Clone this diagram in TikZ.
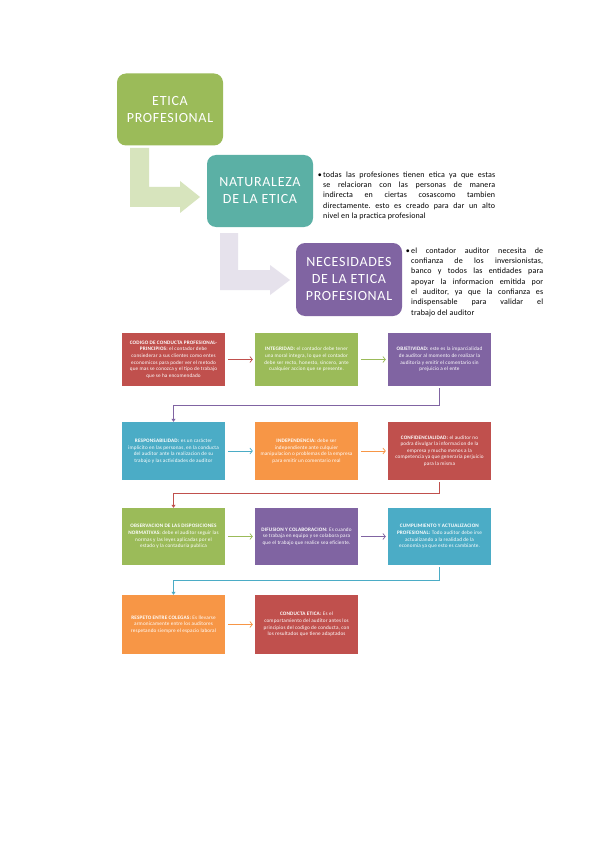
\documentclass[tikz,border=0pt]{standalone}
\usepackage{fontspec}
\setmainfont{Carlito}
\usetikzlibrary{arrows.meta,calc}
\frenchspacing
\definecolor{cgreen}{HTML}{9BBB59}
\definecolor{cred}{HTML}{C0504D}
\definecolor{cpurple}{HTML}{8064A2}
\definecolor{cblue}{HTML}{4BACC6}
\definecolor{corange}{HTML}{F79646}
\definecolor{cteal}{HTML}{5BB0A5}
\definecolor{lgreen}{HTML}{D7E4BD}
\definecolor{llav}{HTML}{E6E2EC}
\begin{document}
\begin{tikzpicture}[x=1pt,y=-1pt,
 head/.style={rounded corners=9pt, text=white, align=center, font=\fontsize{14}{17}\selectfont\addfontfeature{LetterSpace=5}, minimum width=106pt, minimum height=72pt, inner sep=0pt},
 gbox/.style={minimum width=103pt, align=center, inner sep=0pt, text=white, font=\fontsize{5.2}{6.6}\selectfont\addfontfeature{LetterSpace=3}},
 harrow/.style={-{Straight Barb[length=2.5pt,width=6pt]}, line width=0.7pt, shorten <=3pt, shorten >=2pt},
 varrow/.style={-{Triangle[length=3pt,width=4pt]}, line width=0.9pt, shorten <=2pt},
 bul/.style={anchor=north west, inner sep=0pt, align=left, font=\fontsize{8}{10.3}\selectfont\addfontfeature{LetterSpace=2}\frenchspacing}
]
\useasboundingbox (0,0) rectangle (595,842);
\fill[white] (0,0) rectangle (595,842);

% bent arrows
\fill[lgreen] (130,148) -- (149,148) -- (149,187) -- (180,187) -- (180,181) -- (200,197) -- (180,213) -- (180,207) -- (130,207) -- cycle;
\fill[llav] (220,233) -- (238,233) -- (238,270) -- (270,270) -- (270,265) -- (290,280) -- (270,295) -- (270,290) -- (220,290) -- cycle;

% header boxes
\node[head, fill=cgreen] (etica) at (170,109.5) {ETICA\\PROFESIONAL};
\node[head, fill=cteal] (nat) at (260,191) {NATURALEZA\\DE LA ETICA};
\node[head, fill=cpurple, minimum height=73pt] (nec) at (349,279.5) {NECESIDADES\\DE LA ETICA\\PROFESIONAL};

% bullet texts
\node[bul] (t1) at (323,171.5) {\llap{•\,}\makebox[172pt][s]{todas las profesiones tienen etica ya que estas}\\
\makebox[172pt][s]{se relacioran con las personas de manera}\\
\makebox[172pt][s]{indirecta en ciertas cosascomo tambien}\\
\makebox[172pt][s]{directamente. esto es creado para dar un alto}\\
nivel en la practica profesional};
\node[bul] (t2) at (411,247.5) {\llap{•\,}\makebox[132pt][s]{el contador auditor necesita de}\\
\makebox[132pt][s]{confianza de los inversionistas,}\\
\makebox[132pt][s]{banco y todos las entidades para}\\
\makebox[132pt][s]{apoyar la informacion emitida por}\\
\makebox[132pt][s]{el auditor, ya que la confianza es}\\
\makebox[132pt][s]{indispensable para validar el}\\
trabajo del auditor};

% grid boxes
\node[gbox, fill=cred, minimum height=53pt] (A) at (173.5,359.5) {\textbf{CODIGO DE CONDUCTA PROFESIONAL-}\\\textbf{PRINCIPIOS:} el contador debe\\consiederar a sus clientes como entes\\economicos para poder ver el metodo\\que mas se conozca y el tipo de trabajo\\que se ha encomendado};
\node[gbox, fill=cgreen, minimum height=53pt] (B) at (306.5,359.5) {\textbf{INTEGRIDAD:} el contador debe tener\\una moral integra, lo que el contador\\debe ser recto, honesto, sincero, ante\\cualquier accion que se presente.};
\node[gbox, fill=cpurple, minimum height=53pt] (C) at (439.5,359.5) {\textbf{OBJETIVIDAD:} este es la imparcialidad\\de auditor al momento de realizar la\\auditoria y emitir el comentario sin\\prejuicio a el ente};

\node[gbox, fill=cblue, minimum height=58pt] (D) at (173.5,451) {\textbf{RESPONSABILIDAD:} es un carácter\\implicito en las personas, en la conducta\\del auditor ante la realizacion de su\\trabajo y las actividades de auditor};
\node[gbox, fill=corange, minimum height=58pt] (E) at (306.5,451) {\textbf{INDEPENDENCIA:} debe ser\\independiente ante culquier\\manipulacion o problemas de la empresa\\para emitir un comentario real};
\node[gbox, fill=cred, minimum height=58pt] (F) at (439.5,451) {\textbf{CONFIDENCIALIDAD:} el auditor no\\podra divulgar la informacion de la\\empresa y mucho menos a la\\competencia ya que generaria perjuicio\\para la misma};

\node[gbox, fill=cgreen, minimum height=57pt] (G) at (173.5,536.5) {\textbf{OBSERVACION DE LAS DISPOSICIONES}\\\textbf{NORMATIVAS:} debe el auditor seguir las\\normas y las leyes aplicadas por el\\estado y la contaduria publica};
\node[gbox, fill=cpurple, minimum height=57pt] (H) at (306.5,536.5) {\textbf{DIFUSION Y COLABORACION:} Es cuando\\se trabaja en equipo y se colabora para\\que el trabajo que realice sea eficiente.};
\node[gbox, fill=cblue, minimum height=57pt] (I) at (439.5,536.5) {\textbf{CUMPLIMIENTO Y ACTUALIZACION}\\\textbf{PROFESIONAL:} Todo auditor debe irse\\actualizando a la realidad de la\\economia ya que esto es cambiante.};

\node[gbox, fill=corange, minimum height=59pt] (J) at (173.5,624.5) {\textbf{RESPETO ENTRE COLEGAS:} Es llevarse\\armonicamente entre los auditores\\respetando siempre el espacio laboral};
\node[gbox, fill=cred, minimum height=59pt] (K) at (306.5,624.5) {\textbf{CONDUCTA ETICA:} Es el\\comportamiento del auditor antes los\\principios del codigo de conducta, con\\los resultados que tiene adaptados};

% connectors
\draw[harrow, cred] (A) -- (B);
\draw[harrow, cgreen] (B) -- (C);
\coordinate (k1) at (0,405);
\draw[varrow, cpurple] (C.south) -- (C.south |- k1) -| (D.north);
\draw[harrow, cblue] (D) -- (E);
\draw[harrow, corange] (E) -- (F);
\coordinate (k2) at (0,493);
\draw[varrow, cred] (F.south) -- (F.south |- k2) -| (G.north);
\draw[harrow, cgreen] (G) -- (H);
\draw[harrow, cpurple] (H) -- (I);
\coordinate (k3) at (0,580);
\draw[varrow, cblue] (I.south) -- (I.south |- k3) -| (J.north);
\draw[harrow, corange] (J) -- (K);
\end{tikzpicture}
\end{document}
